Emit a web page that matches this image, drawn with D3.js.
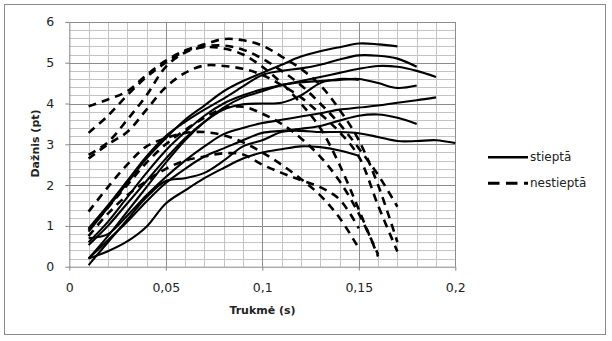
<!DOCTYPE html>
<html><head><meta charset="utf-8">
<script src="https://cdn.jsdelivr.net/npm/d3@7"></script>
<style>
html,body{margin:0;padding:0;background:#fff;}
svg{display:block;font-family:"DejaVu Sans",sans-serif;}
</style></head>
<body><svg id="c" width="612" height="341"></svg>
<script>
// ---- data ----
const xValues = [0.01,0.02,0.03,0.04,0.05,0.06,0.07,0.08,0.09,0.10,0.11,0.12,0.13,0.14,0.15,0.16,0.17,0.18,0.19,0.20];
const xTicks = [0, 0.05, 0.1, 0.15, 0.2];
const yTicks = [0, 1, 2, 3, 4, 5, 6];
const legendLabels = ["stieptā", "nestieptā"];

// stieptā (solid)
const stiepta1 = [0.86,1.45,2.05,2.65,3.15,3.6,3.95,4.3,4.55,4.75,4.95,5.15,5.28,5.38,5.47,5.45,5.4];
const stiepta2 = [0.94,1.5,2.1,2.7,3.2,3.55,3.85,4.12,4.42,4.7,4.8,4.86,4.95,5.08,5.18,5.17,5.1,4.9];
const stiepta3 = [0.6,1.1,1.7,2.3,2.85,3.3,3.7,4.0,4.2,4.35,4.45,4.55,4.65,4.75,4.85,4.92,4.9,4.8,4.65];
const stiepta4 = [0.2,0.75,1.35,1.95,2.55,3.1,3.55,3.9,4.15,4.3,4.45,4.52,4.55,4.58,4.6,4.5,4.38,4.44];
const stiepta5 = [0.53,1.0,1.55,2.1,2.65,3.15,3.55,3.85,3.98,4.0,4.02,4.2,4.5,4.6,4.58];
const stiepta6 = [0.7,0.8,1.25,1.75,2.2,2.6,2.95,3.25,3.4,3.52,3.6,3.68,3.76,3.85,3.9,3.95,4.02,4.08,4.15];
const stiepta7 = [0.2,0.65,1.1,1.6,2.05,2.4,2.7,2.9,3.1,3.28,3.33,3.38,3.45,3.58,3.7,3.73,3.65,3.5];
const stiepta8 = [0.04,0.6,1.15,1.7,2.1,2.17,2.3,2.6,2.95,3.1,3.3,3.33,3.3,3.3,3.27,3.18,3.08,3.08,3.1,3.03];
const stiepta9 = [0.2,0.38,0.62,0.98,1.55,1.87,2.17,2.42,2.65,2.8,2.88,2.95,2.93,2.85,2.72];

// nestieptā (dashed)
const nestiepta1 = [3.93,4.1,4.3,4.7,5.05,5.3,5.45,5.58,5.55,5.42,5.15,4.85,4.45,3.85,3.1,2.0,0.6];
const nestiepta2 = [3.28,3.7,4.2,4.65,5.0,5.28,5.4,5.42,5.32,5.1,4.8,4.45,4.0,3.5,2.9,2.25,1.47];
const nestiepta3 = [2.74,3.05,3.6,4.2,4.9,5.25,5.38,5.35,5.2,4.9,4.5,4.0,3.4,2.5,1.4,0.25];
const nestiepta4 = [2.65,3.0,3.3,3.85,4.4,4.75,4.93,4.92,4.85,4.7,4.45,4.15,3.75,3.3,2.7,1.5,0.37];
const nestiepta5 = [1.35,1.95,2.5,2.95,3.15,3.28,3.3,3.22,3.05,2.8,2.5,2.15,1.75,1.2,0.45];
const nestiepta6 = [0.9,1.45,2.0,2.55,3.0,3.35,3.65,3.88,3.92,3.75,3.5,3.15,2.7,2.1,1.3,0.3];
const nestiepta7 = [0.75,1.3,1.75,2.1,2.4,2.6,2.7,2.78,2.75,2.5,2.3,2.12,1.95,1.65,0.94];

const solidSeries = [stiepta1,stiepta2,stiepta3,stiepta4,stiepta5,stiepta6,stiepta7,stiepta8,stiepta9];
const dashedSeries = [nestiepta1,nestiepta2,nestiepta3,nestiepta4,nestiepta5,nestiepta6,nestiepta7];

// ---- drawing ----
const svg = d3.select("#c");
svg.append("rect").attr("x",4.5).attr("y",4.5).attr("width",601).attr("height",330)
  .attr("fill","#fff").attr("stroke","#8a8a8a").attr("stroke-width",1);

const x = d3.scaleLinear().domain([0,0.2]).range([69.3,455.3]);
const y = d3.scaleLinear().domain([0,6]).range([266.7,21.9]);

const grid = svg.append("g");
const minorX = d3.range(1,20).map(i=>i/100).filter(v=>Math.round(v*100)%5!==0);
const minorY = d3.range(1,30).map(i=>i/5).filter(v=>Math.abs(v-Math.round(v))>1e-6);
grid.selectAll(".mx").data(minorX).join("line")
  .attr("x1",d=>Math.round(x(d))+0.5).attr("x2",d=>Math.round(x(d))+0.5)
  .attr("y1",y(6)).attr("y2",y(0)).attr("stroke","#c4c4c4").attr("stroke-width",1);
grid.selectAll(".my").data(minorY).join("line")
  .attr("y1",d=>Math.round(y(d))+0.5).attr("y2",d=>Math.round(y(d))+0.5)
  .attr("x1",x(0)).attr("x2",x(0.2)).attr("stroke","#c4c4c4").attr("stroke-width",1);
grid.selectAll(".Mx").data(xTicks.slice(1)).join("line")
  .attr("x1",d=>Math.round(x(d))+0.5).attr("x2",d=>Math.round(x(d))+0.5)
  .attr("y1",y(6)).attr("y2",y(0)).attr("stroke","#8c8c8c").attr("stroke-width",1);
grid.selectAll(".My").data(yTicks.slice(1)).join("line")
  .attr("y1",d=>Math.round(y(d))+0.5).attr("y2",d=>Math.round(y(d))+0.5)
  .attr("x1",x(0)).attr("x2",x(0.2)).attr("stroke","#8c8c8c").attr("stroke-width",1);

const fmt = d => String(d).replace(".", ",");
const xAxis = svg.append("g").attr("transform",`translate(0,${y(0)})`)
  .call(d3.axisBottom(x).tickValues(xTicks).tickFormat(fmt).tickSize(4).tickSizeOuter(0).tickPadding(12));
const yAxis = svg.append("g").attr("transform",`translate(${x(0)},0)`)
  .call(d3.axisLeft(y).tickValues(yTicks).tickFormat(fmt).tickSize(4).tickSizeOuter(0).tickPadding(11));
[xAxis,yAxis].forEach(a=>{
  a.select(".domain").attr("stroke","#868686");
  a.selectAll(".tick line").attr("stroke","#868686");
  a.selectAll("text").attr("font-size",12.5).attr("fill","#222").attr("font-family","DejaVu Sans");
});

const line = d3.line().x((d,i)=>x(xValues[i])).y(d=>y(d)).curve(d3.curveCatmullRom.alpha(0.5));
const plot = svg.append("g");
plot.selectAll(".d").data(dashedSeries).join("path")
  .attr("d",line).attr("fill","none").attr("stroke","#000")
  .attr("stroke-width",2.6).attr("stroke-dasharray","8,6");
plot.selectAll(".s").data(solidSeries).join("path")
  .attr("d",line).attr("fill","none").attr("stroke","#000").attr("stroke-width",2.1);

// titles
svg.append("text").attr("x",262.5).attr("y",314).attr("text-anchor","middle")
  .attr("font-size",11).attr("font-weight","bold").attr("fill","#222").text("Trukmė (s)");
svg.append("text").attr("transform","translate(39,143.5) rotate(-90)").attr("text-anchor","middle")
  .attr("font-size",11).attr("font-weight","bold").attr("fill","#222").text("Dažnis (pt)");

// legend
const leg = svg.append("g");
const legY = [157.3, 183.3];
leg.append("line").attr("x1",488).attr("x2",528).attr("y1",legY[0]).attr("y2",legY[0])
  .attr("stroke","#000").attr("stroke-width",2.4);
leg.append("line").attr("x1",488).attr("x2",528).attr("y1",legY[1]).attr("y2",legY[1])
  .attr("stroke","#000").attr("stroke-width",3).attr("stroke-dasharray","11.5,6.5");
leg.selectAll("text").data(legendLabels).join("text")
  .attr("x",530).attr("y",(d,i)=>legY[i]+4).attr("font-size",12).attr("fill","#222").text(d=>d);
</script></body></html>
